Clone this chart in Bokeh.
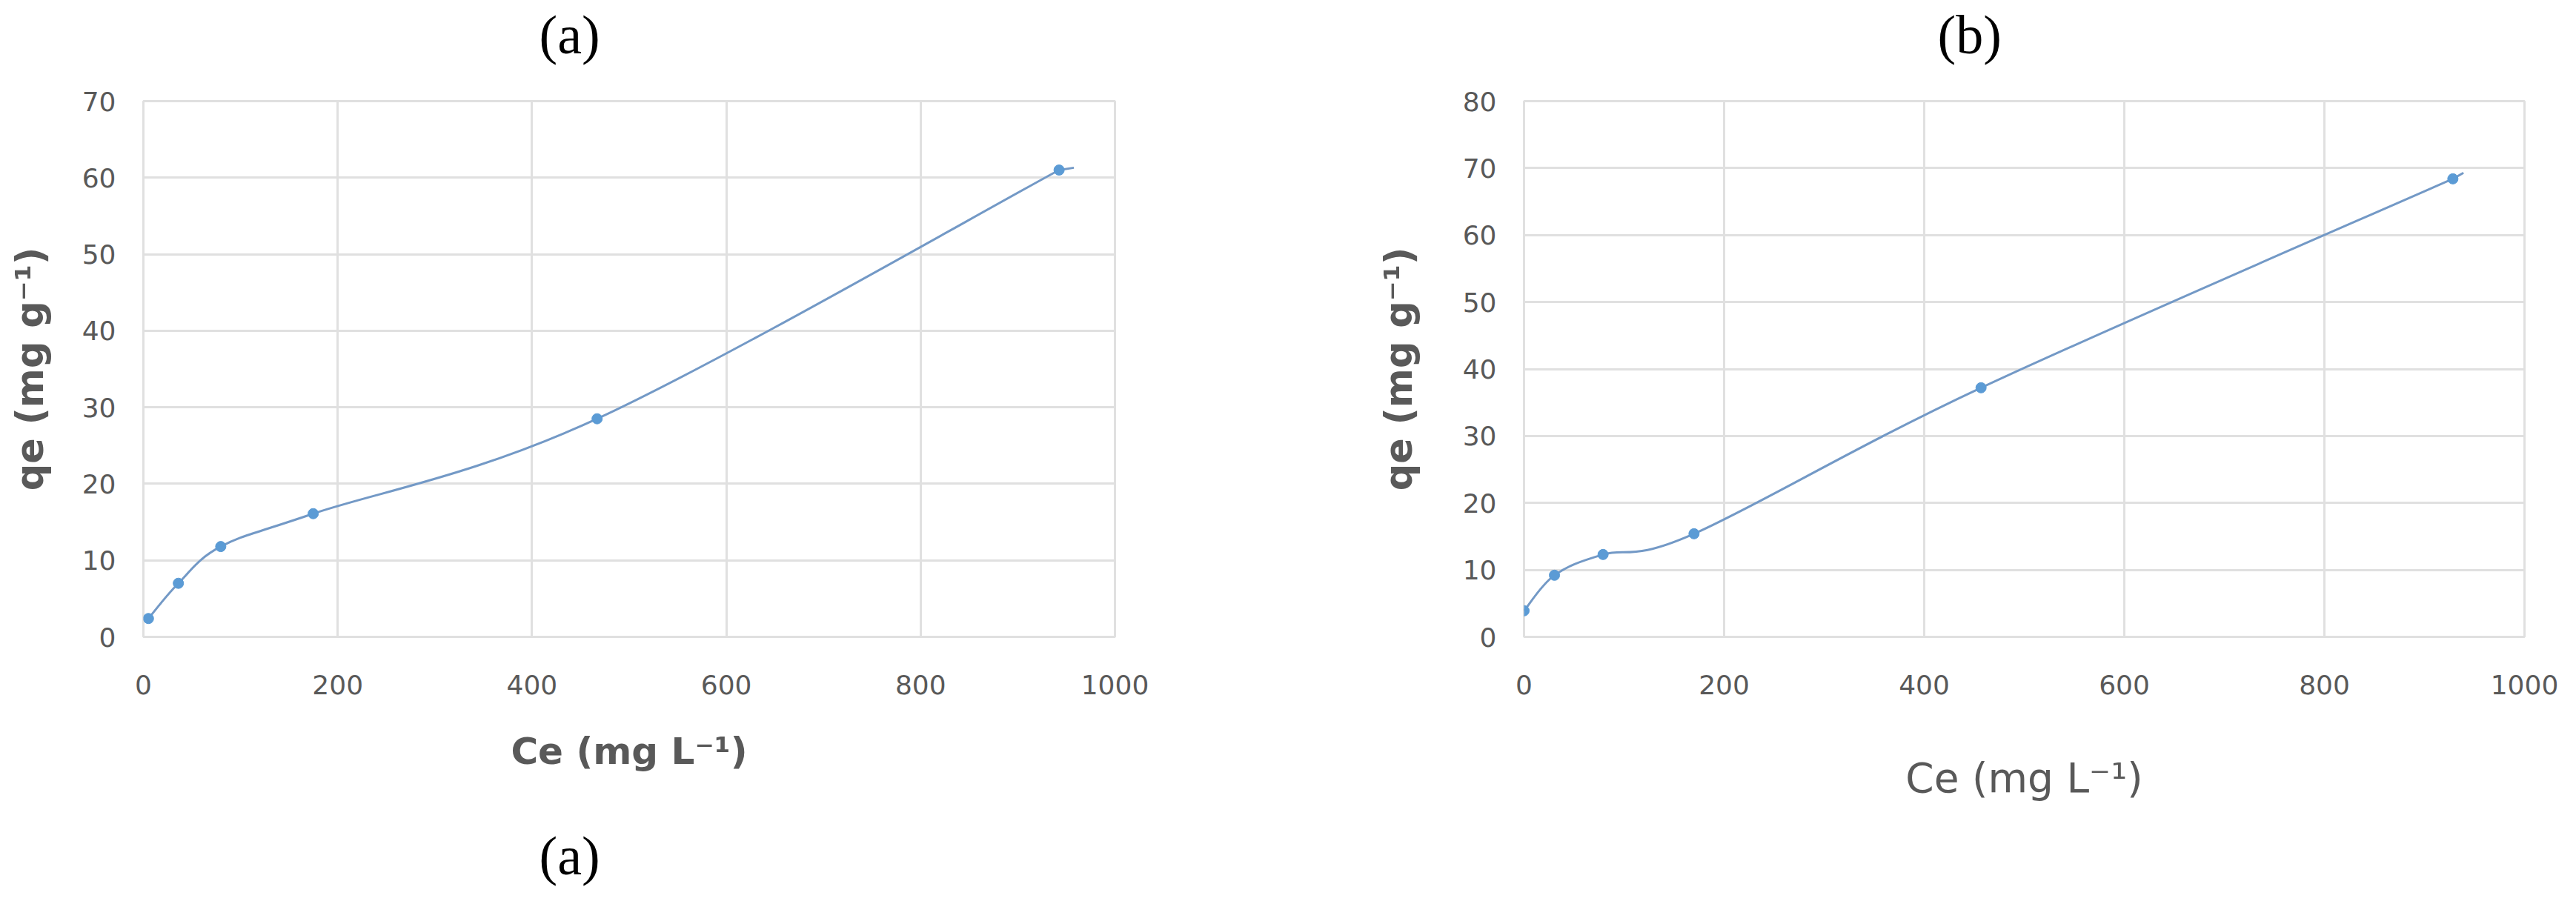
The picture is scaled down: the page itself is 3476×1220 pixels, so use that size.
import numpy as np
from bokeh.plotting import figure
from bokeh.layouts import row
from bokeh.models import Range1d, FixedTicker, Title
from bokeh.embed import file_html
from bokeh.resources import INLINE

# ---------------- data ----------------
# panel (a)
ce_a = [5.2, 36.0, 79.6, 174.8, 467.0, 942.5]
qe_a = [2.4, 7.0, 11.8, 16.1, 28.5, 61.0]
line_end_a = [957.7, 61.3]
# panel (b)
ce_b = [0.0, 30.4, 79.0, 169.9, 456.8, 928.4]
qe_b = [3.9, 9.2, 12.3, 15.4, 37.2, 68.4]
line_end_b = [939.0, 69.3]

x_ticks = [0, 200, 400, 600, 800, 1000]
y_ticks_a = [0, 10, 20, 30, 40, 50, 60, 70]
y_ticks_b = [0, 10, 20, 30, 40, 50, 60, 70, 80]

x_title = "Ce (mg L\u207b\u00b9)"
y_title = "qe (mg g\u207b\u00b9)"

H = 1200
LINE_COL = "#7399c6"
MARK_COL = "#5b9bd5"
GRID_COL = "#e0e0e0"
TXT_COL = "#595959"
TITLE_SIZE = "74px"


def smooth_controls(xs, ys):
    P = np.column_stack([xs, ys]).astype(float)
    n = len(P)
    ext = np.vstack([P[0], P, P[-1]])
    c1 = P[:-1] + (ext[2:n + 1] - ext[0:n - 1]) / 6.0
    c2 = P[1:] - (ext[3:n + 2] - ext[1:n]) / 6.0
    return P[:-1], P[1:], c1, c2


def spacer(standoff):
    return Title(text=" ", text_font_size="10px", standoff=standoff)


def panel_title(text, offset, standoff):
    return Title(text=text, align="left", offset=offset, text_font="Liberation Serif",
                 text_font_size=TITLE_SIZE, text_font_style="normal",
                 text_color="black", standoff=standoff)


def make_panel(W, bl, fw, bt, fb, ymax, yticks, ce, qe, end, title, title_offset):
    p = figure(width=W, height=H, x_range=Range1d(0, 1000), y_range=Range1d(0, ymax),
               output_backend="svg", toolbar_location=None, title=None,
               min_border_left=bl, min_border_right=W - bl - fw,
               min_border_top=bt, min_border_bottom=H - fb)
    p.add_layout(spacer(33), "above")
    p.add_layout(panel_title(title, title_offset, 6), "above")
    p.background_fill_color = "white"
    p.border_fill_color = "white"
    p.outline_line_color = GRID_COL
    p.outline_line_width = 3
    p.xaxis.ticker = FixedTicker(ticks=x_ticks)
    p.yaxis.ticker = FixedTicker(ticks=yticks)
    for ax in (p.xaxis, p.yaxis):
        ax.axis_line_color = None
        ax.major_tick_line_color = None
        ax.minor_tick_line_color = None
        ax.major_label_text_font = "DejaVu Sans"
        ax.major_label_text_font_size = "36px"
        ax.major_label_text_color = TXT_COL
        ax.axis_label_text_font = "DejaVu Sans"
        ax.axis_label_text_color = TXT_COL
    p.xaxis.major_label_standoff = 45
    p.yaxis.major_label_standoff = 31
    p.xaxis.axis_label = x_title
    p.yaxis.axis_label = y_title
    p.yaxis.axis_label_text_font_style = "bold"
    p.yaxis.axis_label_text_font_size = "51px"
    p.grid.grid_line_color = GRID_COL
    p.grid.grid_line_width = 3

    s, e, c1, c2 = smooth_controls(ce, qe)
    p.bezier(x0=s[:, 0], y0=s[:, 1], x1=e[:, 0], y1=e[:, 1],
             cx0=c1[:, 0], cy0=c1[:, 1], cx1=c2[:, 0], cy1=c2[:, 1],
             line_color=LINE_COL, line_width=3)
    p.line([ce[-1], end[0]], [qe[-1], end[1]], line_color=LINE_COL, line_width=3)
    p.scatter(ce, qe, size=14, marker="circle", fill_color=MARK_COL, line_color=MARK_COL)
    return p


WA = 1710
WB = 1750
pa = make_panel(WA, 193, 1311, 135, 859, 70, y_ticks_a, ce_a, qe_a, line_end_a, "(a)", 534)
pb = make_panel(WB, 346, 1350, 134, 861, 80, y_ticks_b, ce_b, qe_b, line_end_b, "(b)", 558)

pa.xaxis.axis_label_text_font_style = "bold"
pa.xaxis.axis_label_text_font_size = "50px"
pa.xaxis.axis_label_standoff = 45
pa.yaxis.axis_label_standoff = 38
pb.xaxis.axis_label_text_font_style = "normal"
pb.xaxis.axis_label_text_font_size = "55px"
pb.xaxis.axis_label_standoff = 78
pb.yaxis.axis_label_standoff = 54

pa.add_layout(spacer(49), "below")
pa.add_layout(panel_title("(a)", 534, 8), "below")

layout = row(pa, pb)
open("out.html", "w").write(file_html(layout, INLINE))
